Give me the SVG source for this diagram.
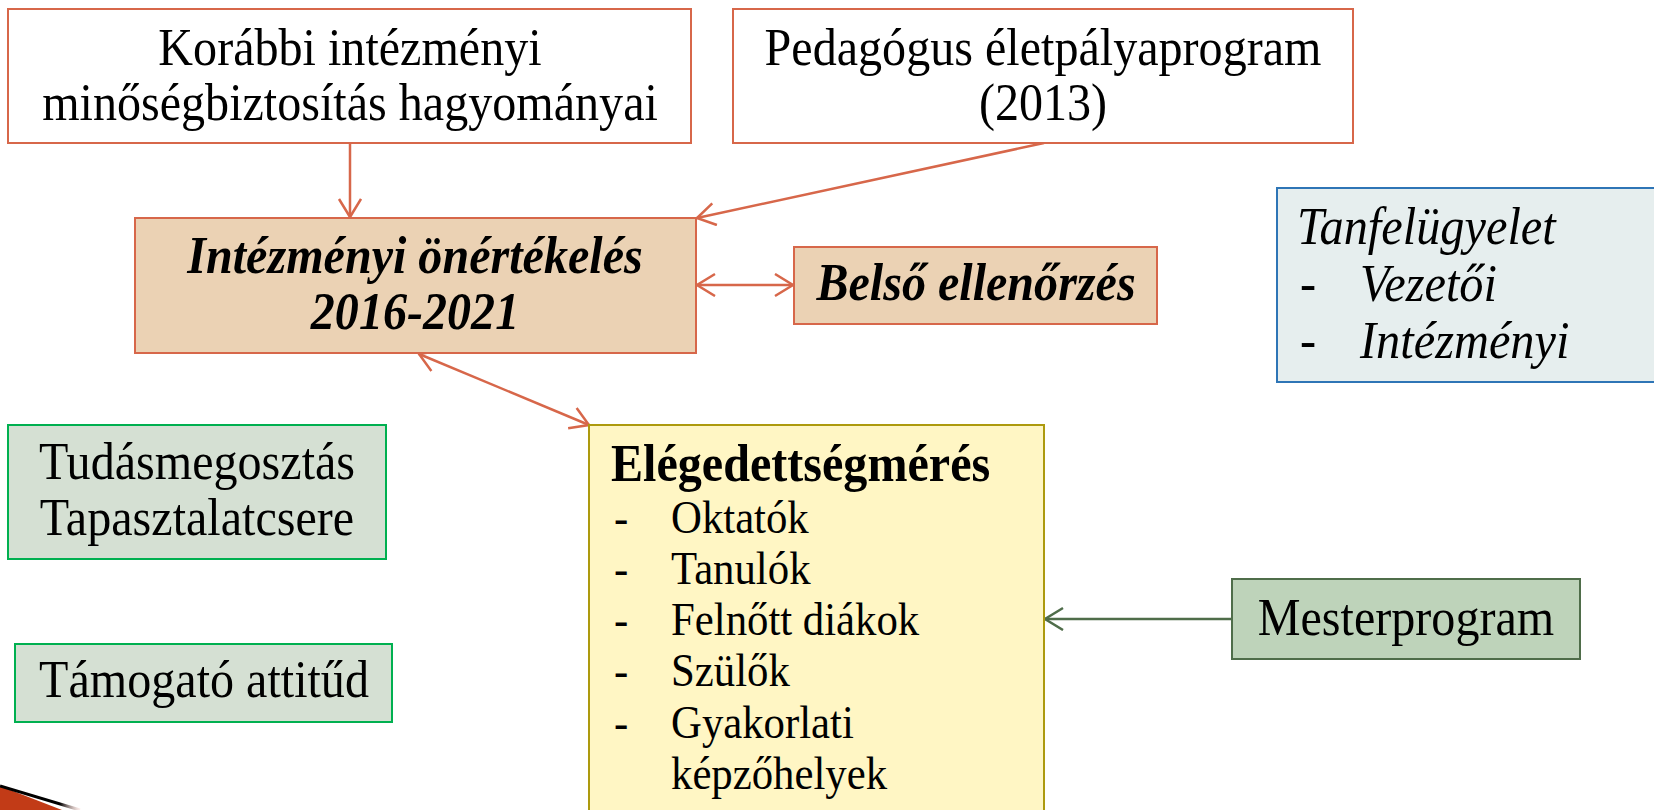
<svg xmlns="http://www.w3.org/2000/svg" width="1654" height="810" viewBox="0 0 1654 810">
<style>
text{font-family:"Liberation Serif","Times New Roman",serif;fill:#000;}
.t{font-size:52px;}
.s{font-size:47px;}
.c{text-anchor:middle;}
.bi{font-weight:bold;font-style:italic;}
.i{font-style:italic;}
.b{font-weight:bold;}
.red{fill:#FFFFFF;stroke:#D7674A;stroke-width:2;}
.tan{fill:#EBD2B4;stroke:#D7674A;stroke-width:2;}
.yel{fill:#FFF6C4;stroke:#AD9A0E;stroke-width:2;}
.grn{fill:#D5E0D3;stroke:#00B050;stroke-width:2;}
.mgr{fill:#BED3BA;stroke:#4F6D4A;stroke-width:2;}
.blu{fill:#E6EEEE;stroke:#2E75B6;stroke-width:2;}
.cr{stroke:#D7674A;stroke-width:2.5;fill:none;}
.cg{stroke:#4F6D4A;stroke-width:2.5;fill:none;}
</style>
<defs>
<marker id="ar" markerUnits="userSpaceOnUse" markerWidth="30" markerHeight="30" refX="20" refY="12" orient="auto-start-reverse">
<path d="M2,1 L20,12 L2,23" fill="none" stroke="#D7674A" stroke-width="2.5"/>
</marker>
<marker id="ag" markerUnits="userSpaceOnUse" markerWidth="30" markerHeight="30" refX="20" refY="12" orient="auto-start-reverse">
<path d="M2,1 L20,12 L2,23" fill="none" stroke="#4F6D4A" stroke-width="2.5"/>
</marker>
<linearGradient id="fade" x1="0" y1="0" x2="1" y2="0">
<stop offset="0" stop-color="#000"/>
<stop offset="0.75" stop-color="#000"/>
<stop offset="1" stop-color="#F4C8C0" stop-opacity="0.3"/>
</linearGradient>
</defs>

<g id="decor">
<path d="M0,786 L62,810 L0,810 Z" fill="#C23B17"/>
<path d="M0,786 L80,810" stroke="url(#fade)" stroke-width="3" fill="none"/>
</g>

<g id="connectors">
<line class="cr" x1="350" y1="143" x2="350" y2="217" marker-end="url(#ar)"/>
<line class="cr" x1="1044" y1="143" x2="697" y2="218" marker-end="url(#ar)"/>
<line class="cr" x1="697" y1="285" x2="793" y2="285" marker-start="url(#ar)" marker-end="url(#ar)"/>
<line class="cr" x1="419" y1="354" x2="589" y2="425" marker-start="url(#ar)" marker-end="url(#ar)"/>
<line class="cg" x1="1232" y1="619" x2="1045" y2="619" marker-end="url(#ag)"/>
</g>

<g id="n-korabbi">
<rect class="red" x="8" y="9" width="683" height="134"/>
<text class="t c" x="0" y="65" transform="matrix(0.925 0 0 1 350 0)">Korábbi intézményi</text>
<text class="t c" x="0" y="120" transform="matrix(0.925 0 0 1 350 0)">minőségbiztosítás hagyományai</text>
</g>

<g id="n-pedagogus">
<rect class="red" x="733" y="9" width="620" height="134"/>
<text class="t c" x="0" y="65" transform="matrix(0.925 0 0 1 1043 0)">Pedagógus életpályaprogram</text>
<text class="t c" x="0" y="120" transform="matrix(0.925 0 0 1 1043 0)">(2013)</text>
</g>

<g id="n-onertekeles">
<rect class="tan" x="135" y="218" width="561" height="135"/>
<text class="t c bi" x="0" y="273" transform="matrix(0.925 0 0 1 415 0)">Intézményi önértékelés</text>
<text class="t c bi" x="0" y="329" transform="matrix(0.925 0 0 1 415 0)">2016-2021</text>
</g>

<g id="n-belso">
<rect class="tan" x="794" y="247" width="363" height="77"/>
<text class="t c bi" x="0" y="300" transform="matrix(0.925 0 0 1 976 0)">Belső ellenőrzés</text>
</g>

<g id="n-tanfelugyelet">
<rect class="blu" x="1277" y="188" width="390" height="194"/>
<text class="t i" x="0" y="244" transform="matrix(0.93 0 0 1 1297 0)">Tanfelügyelet</text>
<text class="t" x="0" y="301" transform="matrix(0.93 0 0 1 1300 0)">-</text>
<text class="t i" x="0" y="301" transform="matrix(0.93 0 0 1 1360 0)">Vezetői</text>
<text class="t" x="0" y="358" transform="matrix(0.93 0 0 1 1300 0)">-</text>
<text class="t i" x="0" y="358" transform="matrix(0.93 0 0 1 1360 0)">Intézményi</text>
</g>

<g id="n-tudas">
<rect class="grn" x="8" y="425" width="378" height="134"/>
<text class="t c" x="0" y="479" transform="matrix(0.925 0 0 1 197 0)">Tudásmegosztás</text>
<text class="t c" x="0" y="535" transform="matrix(0.925 0 0 1 197 0)">Tapasztalatcsere</text>
</g>

<g id="n-tamogato">
<rect class="grn" x="15" y="644" width="377" height="78"/>
<text class="t c" x="0" y="697" transform="matrix(0.925 0 0 1 204 0)">Támogató attitűd</text>
</g>

<g id="n-elegedettseg">
<rect class="yel" x="589" y="425" width="455" height="400"/>
<text class="t b" x="0" y="481" transform="matrix(0.925 0 0 1 611 0)">Elégedettségmérés</text>
<text class="s" x="0" y="533" transform="matrix(0.91 0 0 1 614 0)">-</text>
<text class="s" x="0" y="533" transform="matrix(0.91 0 0 1 671 0)">Oktatók</text>
<text class="s" x="0" y="584" transform="matrix(0.91 0 0 1 614 0)">-</text>
<text class="s" x="0" y="584" transform="matrix(0.91 0 0 1 671 0)">Tanulók</text>
<text class="s" x="0" y="635" transform="matrix(0.91 0 0 1 614 0)">-</text>
<text class="s" x="0" y="635" transform="matrix(0.91 0 0 1 671 0)">Felnőtt diákok</text>
<text class="s" x="0" y="686" transform="matrix(0.91 0 0 1 614 0)">-</text>
<text class="s" x="0" y="686" transform="matrix(0.91 0 0 1 671 0)">Szülők</text>
<text class="s" x="0" y="738" transform="matrix(0.91 0 0 1 614 0)">-</text>
<text class="s" x="0" y="738" transform="matrix(0.91 0 0 1 671 0)">Gyakorlati</text>
<text class="s" x="0" y="789" transform="matrix(0.91 0 0 1 671 0)">képzőhelyek</text>
</g>

<g id="n-mester">
<rect class="mgr" x="1232" y="579" width="348" height="80"/>
<text class="t c" x="0" y="635" transform="matrix(0.925 0 0 1 1406 0)">Mesterprogram</text>
</g>
</svg>
